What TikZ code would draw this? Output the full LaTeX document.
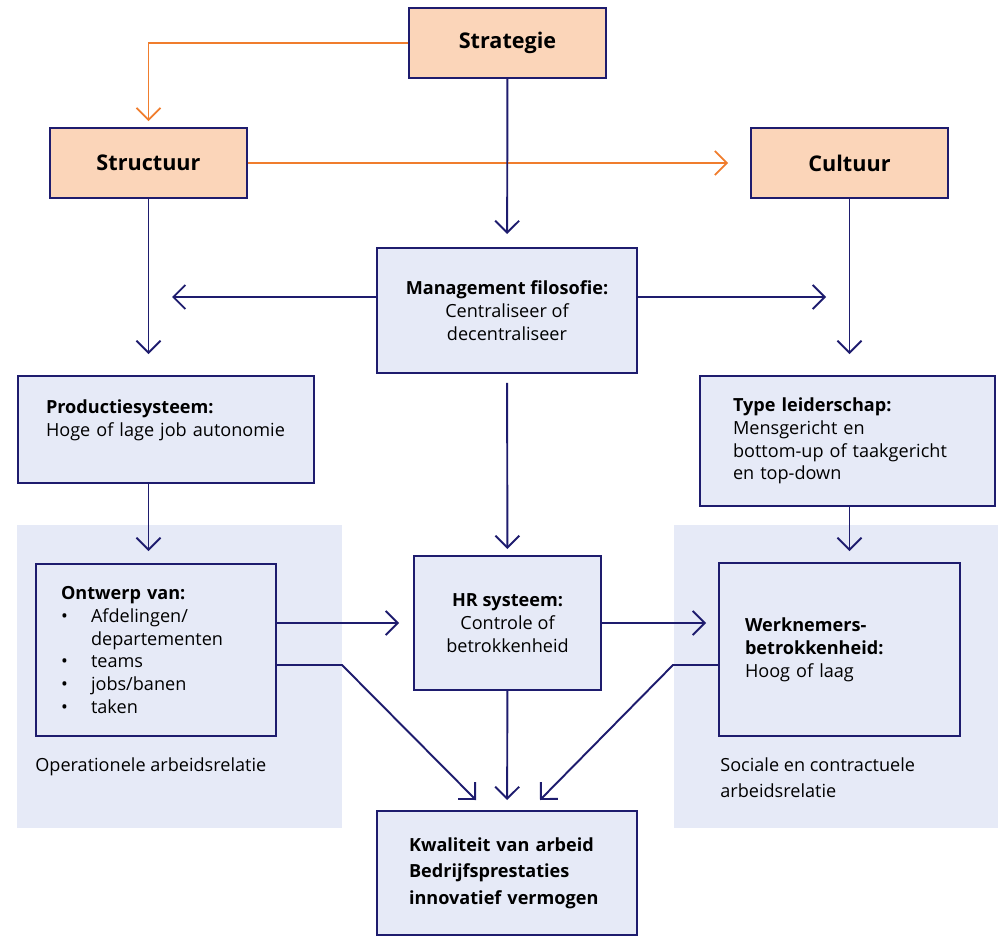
\documentclass[tikz,border=0pt]{standalone}
\usepackage{fontspec}
\setmainfont{Open Sans}
\usepackage{tikz}
\usetikzlibrary{
	arrows.meta,
	calc,
	positioning,
}
\definecolor{navy}{HTML}{1E1C6E}
\definecolor{peach}{HTML}{FBD5B9}
\definecolor{paleblue}{HTML}{E6EAF7}
\definecolor{ingorange}{HTML}{F07D2D}
\tikzset{peach node/.style={
	draw=navy,
	fill=peach,
	line width=1.1pt,
	minimum width=3.94cm,
	minimum height=1.4cm,
	font=\fontsize{12.3}{14}\selectfont\bfseries,
}}
\tikzset{blue node/.style={
	draw=navy,
	fill=paleblue,
	line width=1.1pt,
	inner ysep=0pt,
	font=\fontsize{10.3}{13}\selectfont,
}}
\tikzset{zone node/.style={
	fill=paleblue,
	inner sep=0pt,
}}
\tikzset{navy line/.style={
	navy,
	line width=1.1pt,
	-{Straight Barb[length=2.4mm,width=4.8mm]},
}}
\tikzset{orange line/.style={
	ingorange,
	line width=1pt,
	-{Straight Barb[length=2.4mm,width=4.8mm]},
}}
\newcommand{\bul}[1]{\makebox[0.6cm][l]{#1}}

\begin{document}
\begin{tikzpicture}[x=0.02cm,y=-0.02cm]
\useasboundingbox (0,0) rectangle (998,936);

% achtergrond
\node[zone node, minimum width=6.5cm, minimum height=6.06cm](opzone) at(179.5,676.5) {};
\node[zone node, minimum width=6.48cm, minimum height=6.06cm](soczone) at(836,676.5) {};

\node[peach node](strategie) at(507.5,43) {Strategie};
\node[peach node](structuur) at(148.5,163) {Structuur};
\node[peach node](cultuur) at(849.5,163) {Cultuur};

\node[blue node, minimum width=5.2cm, minimum height=2.5cm, align=center](mgmt) at(507,310.5)
	{\textbf{Management filosofie:}\\Centraliseer of\\decentraliseer};

\node[blue node, minimum width=5.92cm, minimum height=2.14cm, text width=4.8cm, inner xsep=0.56cm, align=left](prod) at(166,429.5)
	{\textbf{Productiesysteem:}\\Hoge of lage job autonomie\\ \mbox{}};

\node[blue node, minimum width=5.9cm, minimum height=2.6cm, text width=4.58cm, inner xsep=0.66cm, align=left](leider) at(847.5,441)
	{\textbf{Type leiderschap:}\\Mensgericht en\\bottom-up of taakgericht\\en top-down};

\node[blue node, minimum width=4.8cm, minimum height=3.44cm, text width=3.8cm, inner xsep=0.5cm, align=left](ontwerp) at(156,650)
	{\textbf{Ontwerp van:}\\
	\bul{\textbullet}Afdelingen/\\
	\bul{}departementen\\
	\bul{\textbullet}teams\\
	\bul{\textbullet}jobs/banen\\
	\bul{\textbullet}taken};

\node[blue node, minimum width=3.74cm, minimum height=2.68cm, align=center](hr) at(507.5,623)
	{\textbf{HR systeem:}\\Controle of\\betrokkenheid};

\node[blue node, minimum width=4.82cm, minimum height=3.46cm, text width=3.78cm, inner xsep=0.52cm, align=left](werk) at(839.5,649.5)
	{\textbf{Werknemers-}\\\textbf{betrokkenheid:}\\Hoog of laag};

\node[blue node, minimum width=5.2cm, minimum height=2.48cm, text width=3.92cm, inner xsep=0.64cm, align=left, font=\fontsize{10.3}{15}\selectfont\bfseries](kwal) at(507,873)
	{Kwaliteit van arbeid\\Bedrijfsprestaties\\innovatief vermogen};

\node[anchor=west, inner sep=0pt, font=\fontsize{10.3}{13}\selectfont](oplabel) at(35,767)
	{Operationele arbeidsrelatie};
\node[anchor=north west, inner sep=0pt, align=left, font=\fontsize{10.3}{15}\selectfont](soclabel) at(720,757)
	{Sociale en contractuele\\arbeidsrelatie};

\coordinate(mgl) at(172,297);
\coordinate(mgr) at(826,297);
\coordinate(oknik) at(342,665);
\coordinate(oend) at(476,800);
\coordinate(wknik) at(673,665);
\coordinate(wend) at(540,800);

\draw[orange line, shorten >=0.12cm] (strategie.west) -| (structuur.north);
\draw[orange line, shorten >=0.44cm] (structuur.east) -- (cultuur.west);

\draw[navy line, shorten >=0.26cm] (strategie) -- (mgmt);
\draw[navy line, shorten >=0.42cm] (structuur) -- (structuur |- prod.north);
\draw[navy line, shorten >=0.42cm] (cultuur) -- (cultuur |- leider.north);
\draw[navy line] (mgmt.west |- mgl) -- (mgl);
\draw[navy line] (mgmt.east |- mgr) -- (mgr);
\draw[navy line, shorten <=0.18cm, shorten >=0.12cm] (mgmt) -- (hr);
\draw[navy line, shorten >=0.24cm] (structuur |- prod.south) -- (structuur |- ontwerp.north);
\draw[navy line, shorten >=0.22cm] (cultuur |- leider.south) -- (cultuur |- werk.north);
\draw[navy line, shorten >=0.28cm] (ontwerp.east |- hr.west) -- (hr.west);
\draw[navy line, shorten >=0.24cm] (hr.east) -- (werk.west |- hr.east);
\draw[navy line] (ontwerp.east |- oknik) -- (oknik) -- (oend);
\draw[navy line] (werk.west |- wknik) -- (wknik) -- (wend);
\draw[navy line, shorten >=0.2cm] (hr) -- (kwal);

\end{tikzpicture}
\end{document}
